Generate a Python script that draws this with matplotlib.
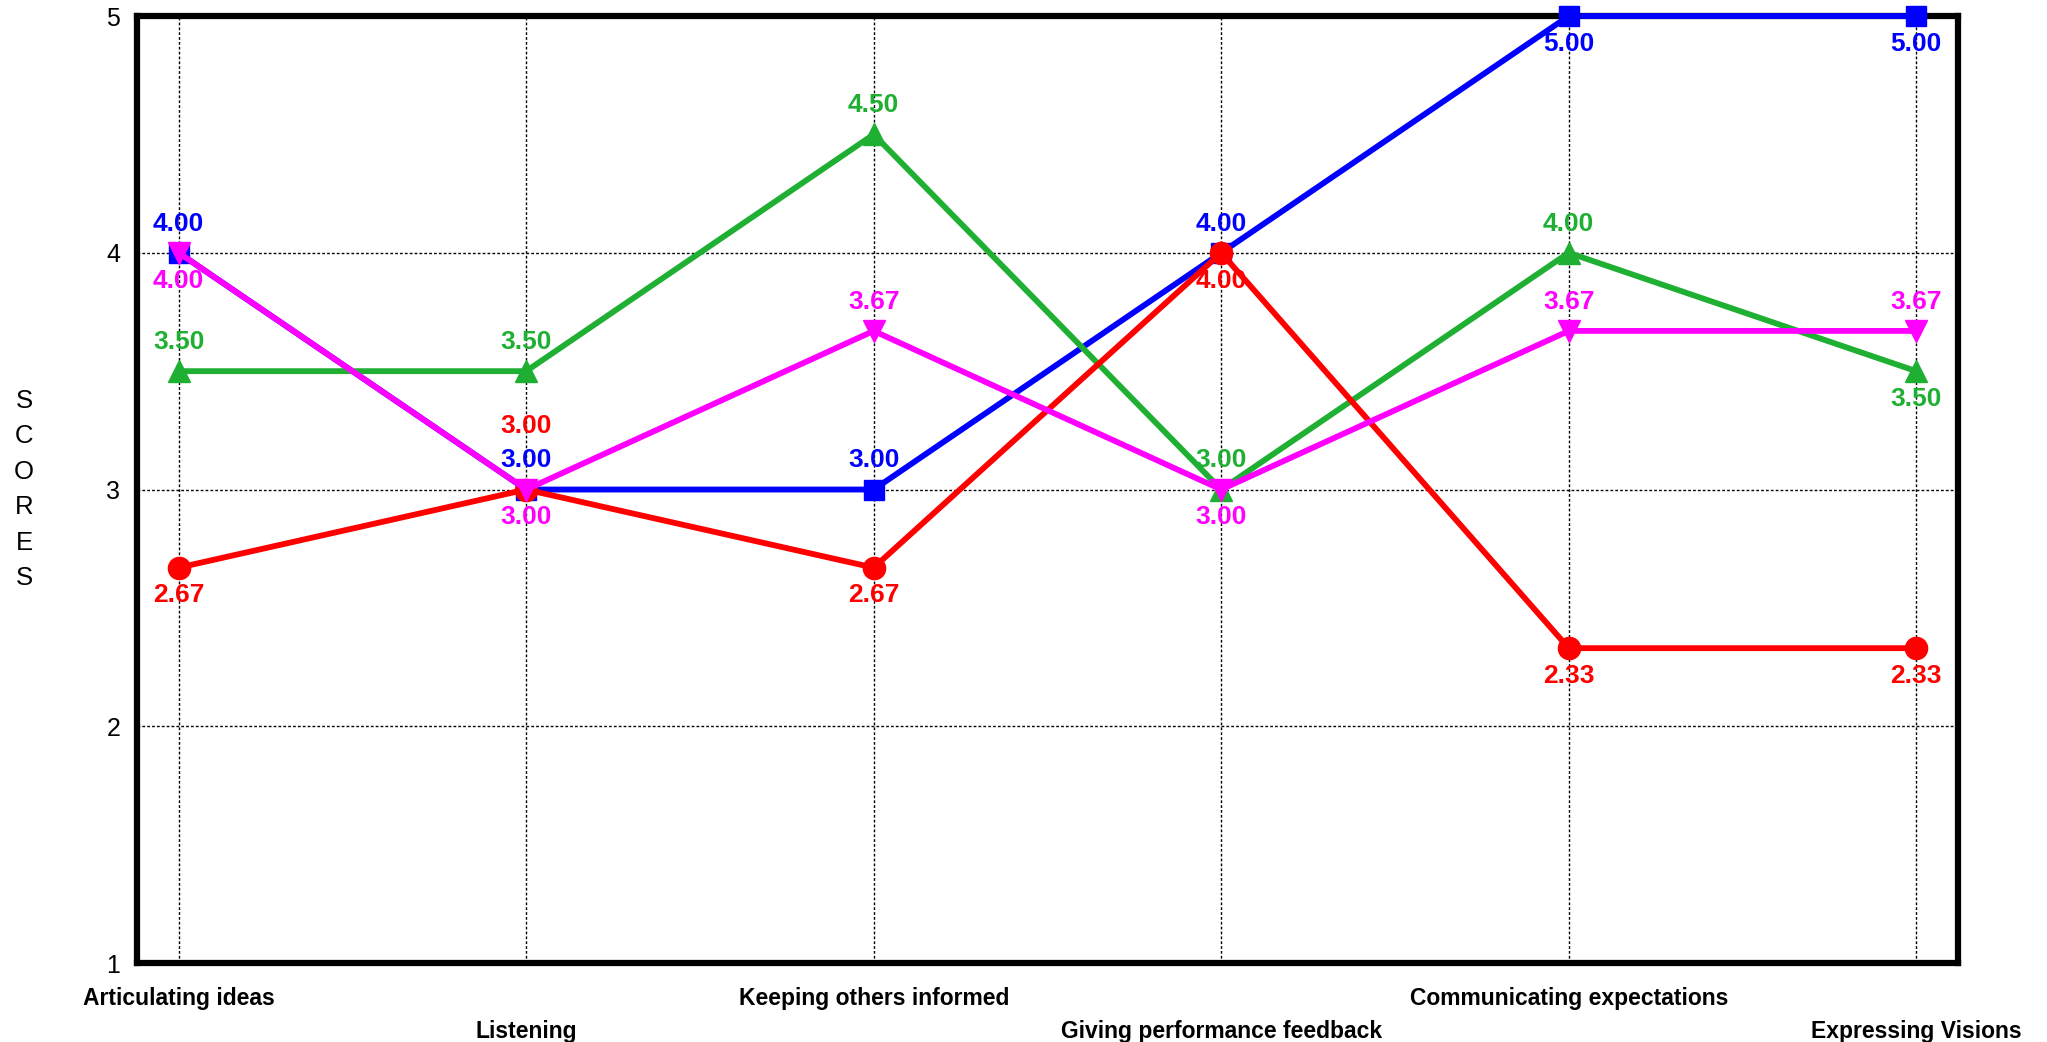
import numpy as np
import matplotlib.pyplot as plt

plt.rcParams['font.family'] = ['Liberation Sans', 'DejaVu Sans']

skills = ["Articulating ideas", "Listening", "Keeping others informed",
          "Giving performance feedback", "Communicating expectations",
          "Expressing Visions"]

blue_scores = [4.00, 3.00, 3.00, 4.00, 5.00, 5.00]
green_scores = [3.50, 3.50, 4.50, 3.00, 4.00, 3.50]
red_scores = [2.67, 3.00, 2.67, 4.00, 2.33, 2.33]
magenta_scores = [4.00, 3.00, 3.67, 3.00, 3.67, 3.67]

# label offsets (points) for each value: positive = above the marker
blue_offsets = [21, 21, 21, 21, -20, -20]
green_offsets = [21, 21, 21, 21, 21, -20]
red_offsets = [-20, 46, -20, -20, -20, -20]
magenta_offsets = [-20, -20, 21, -20, 21, 21]

fig = plt.figure(figsize=(20.47, 10.42), dpi=100)
ax = fig.add_axes([0.0669, 0.0758, 0.8896, 0.9088])

x = np.arange(len(skills))

series = [
    (blue_scores, blue_offsets, "#0000ff", "s", 15),
    (green_scores, green_offsets, "#1fb033", "^", 16),
    (red_scores, red_offsets, "#ff0000", "o", 16),
    (magenta_scores, magenta_offsets, "#ff00ff", "v", 16),
]

for vals, offs, col, mk, ms in series:
    ax.plot(x, vals, color=col, lw=4.2, marker=mk, ms=ms,
            mec=col, mfc=col, clip_on=False, zorder=3)
    for xi, v, dy in zip(x, vals, offs):
        ax.annotate(f"{v:.2f}", (xi, v), xytext=(0, dy),
                    textcoords="offset points", ha="center", va="center",
                    color=col, fontsize=19, fontweight="bold", zorder=4)

ax.set_xlim(-0.12, 5.12)
ax.set_ylim(1, 5)
ax.set_yticks([1, 2, 3, 4, 5])
ax.set_yticklabels(["1", "2", "3", "4", "5"], fontsize=18)
ax.set_xticks(x)
ax.set_xticklabels([s if i % 2 == 0 else "\n" + s for i, s in enumerate(skills)],
                   fontsize=16.5, fontweight="bold", linespacing=1.55)
ax.tick_params(axis="both", length=0)
ax.tick_params(axis="x", pad=17)
ax.tick_params(axis="y", pad=12)

ax.grid(True, color="black", linestyle=(0, (2, 1.5)), linewidth=1.0, zorder=1)
ax.set_axisbelow(True)

for sp in ax.spines.values():
    sp.set_linewidth(4.5)
    sp.set_color("black")

ax.set_ylabel("S\nC\nO\nR\nE\nS", rotation=0, fontsize=18.5,
              linespacing=1.6, va="center", ha="center")
ax.yaxis.set_label_coords(-0.062, 0.5)

fig.savefig("out.png", dpi=100)
